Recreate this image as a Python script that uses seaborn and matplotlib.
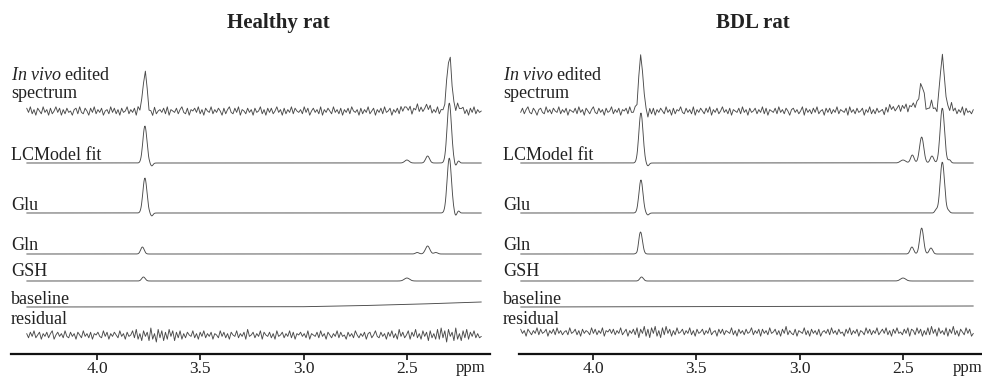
import numpy as np
import seaborn as sns
import matplotlib.pyplot as plt

sns.set_theme(style="white")
plt.rcParams['font.family'] = ['Liberation Serif', 'DejaVu Serif']
plt.rcParams['mathtext.fontset'] = 'custom'
plt.rcParams['mathtext.rm'] = 'Liberation Serif'
plt.rcParams['mathtext.it'] = 'Liberation Serif:italic'

# peak tables: (ppm, height in px, width in ppm)
invivo_healthy = [(3.768, 38, 0.024), (3.735, -4, 0.015), (2.50, 4, 0.03), (2.45, 3, 0.03),
                  (2.40, 6, 0.025), (2.295, 56, 0.026), (2.25, 4, 0.03)]
fit_healthy = [(3.768, 37, 0.023), (3.735, -3, 0.015), (2.50, 3, 0.025), (2.40, 7, 0.022),
               (2.295, 60, 0.025), (2.265, -3, 0.012), (2.25, 2, 0.012)]
glu_healthy = [(3.768, 35, 0.023), (3.735, -3, 0.015), (2.295, 55, 0.025),
               (2.265, -3, 0.012), (2.25, 2, 0.012)]
gln_healthy = [(3.78, 7, 0.02), (2.45, 1.5, 0.02), (2.40, 8, 0.025), (2.36, 1.5, 0.02)]
gsh_healthy = [(3.775, 4, 0.02), (2.50, 3, 0.03)]
baseline_healthy_ppm = [4.34, 3.0, 2.7, 2.4, 2.14]
baseline_healthy_val = [0, 0.3, 1.5, 3.2, 5]

invivo_bdl = [(3.768, 54, 0.025), (3.735, -5, 0.015), (2.55, 3, 0.05), (2.50, 4, 0.04),
              (2.45, 8, 0.025), (2.41, 29, 0.026), (2.36, 7, 0.02), (2.31, 54, 0.026),
              (2.27, 5, 0.02)]
fit_bdl = [(3.768, 50, 0.024), (3.735, -3, 0.015), (2.50, 3, 0.03), (2.455, 8, 0.02),
           (2.41, 26, 0.024), (2.36, 7, 0.02), (2.31, 55, 0.025), (2.275, 3, 0.015)]
glu_bdl = [(3.768, 33, 0.023), (3.735, -2, 0.015), (2.34, 3, 0.015), (2.31, 51, 0.025),
           (2.28, 2, 0.015)]
gln_bdl = [(3.785, -2, 0.01), (3.77, 22, 0.022), (2.457, 7, 0.02), (2.41, 26, 0.022),
           (2.365, 6, 0.02)]
gsh_bdl = [(3.765, 4, 0.02), (2.50, 3, 0.03)]
baseline_bdl_ppm = [4.35, 2.16]
baseline_bdl_val = [0, 1]

# noise traces (in vivo and residual), sampled evenly across the spectrum
noise_invivo_healthy = [
    2, -1, 3, -2, 1, -3, 2, 0, -2, 3, -1, 1, -3, 2, -2, 0, 3, -1, 2, -3, 1, -2, 2, -1, 0,
    -3, 1, 2, -2, 3, -1, -2, 2, 0, -3, 2, -1, 3, -2, 1, -1, 2, -3, 0, 1, -2, 3, -1, 2, -2,
    1, -3, 2, -1, 0, 3, -2, 1, -1, 2, -3, 3, -1, 0, -2, 2, 1, -3, 2, -1, 3, -2, 0, 1, -1,
    2, -2, 3, -3, 1, 0, -1, 2, -2, 1, 3, -1, -2, 2, -3, 1, 0, 2, -1, 3, -2, 1, -3, 2, 0,
    -1, 3, -2, 1, -1, 2, 0, -3, 2, -2, 1, 3, -1, -2, 2, -1, 3, -3, 1, 0, -2, 2, -1, 1, -3,
    2, -1, 0, 3, -2, 1, -3, 2, -1, 2, -2, 0, 3, -1, 1, -3, 2, -2, 1, -1, 3, -2, 2, 0, -1,
    1, -2, 3, -1, 2, -3, 0, 2, -1, 1, -2, 3, -3, 1, -1, 2, 0, -2, 3, -1, 1, -2, 2, -3, 1,
    -1, 2, -2, 3, 0, -1, 1, -3, 2, -2, 1, -1, 3, -2, 0, 2, -3, 1, -1, 2, -2, 3, -1, 0, 2,
    -3, 1, -1, 2, -2, 3, -1, 1, 0, -2, 2, -3, 1, -1, 3, -2, 2, -1, 0, 1, -3, 2, -2, 1, -1,
    3, -2, 1, 0, -1, 2, -3, 2, -1, 1, -2, 3, -1, 0, 2, -2, 1, -3, 2, -1, 3, -2, 1, -1, 0]
noise_residual_healthy = [
    1, -2, 2, -1, 3, -2, 0, 2, -3, 1, -1, 2, -2, 1, 3, -3, 0, 2, -1, 1, -2, 3, -1, -2, 2,
    -1, 1, -3, 2, 0, -2, 3, -1, 1, -2, 2, -3, 1, 0, 2, -1, -2, 3, -1, 2, -3, 1, -1, 2, 0,
    -2, 3, -1, 1, -3, 2, -1, 0, 3, -2, 4, -3, 1, -4, 3, -1, 2, -4, 5, -3, 1, -5, 4, -2, 3,
    -4, 2, -3, 4, -1, 3, -4, 2, -2, 3, -3, 1, -2, 2, 0, -1, 3, -2, 1, -3, 2, -1, 3, -2, 1,
    -1, 2, -3, 1, 0, -2, 3, -1, 2, -2, 1, -3, 2, 0, -1, 3, -2, 1, -1, 2, -3, 4, -1, 0, 2,
    -2, 1, -1, 3, -3, 2, 0, -1, 2, -2, 1, -3, 3, -1, 0, 2, -2, 1, -1, 3, -2, 2, -3, 1, 0,
    2, -1, 1, -2, 3, -3, 1, 0, -1, 2, -2, 3, -1, 1, -3, 2, 0, -2, 1, -1, 3, -2, 2, -1, 0,
    -3, 2, -1, 1, -2, 3, 0, -2, 1, -1, 2, -3, 1, 2, -2, 0, 3, -1, -2, 2, -1, 1, -3, 2, -1,
    3, -2, 1, -3, 4, -1, 2, -2, 0, 3, -3, 2, -1, 4, -2, 1, -3, 3, -1, 2, -4, 3, -2, 1, -3,
    4, -3, 5, -2, 3, -5, 4, -1, 2, -4, 5, -3, 1, -4, 3, -2, 4, -3, 2, -1, 3, -2, 1, -2, -1]
noise_invivo_bdl = [
    -1, 2, -2, 1, 3, -1, -2, 2, 0, -3, 1, 2, -1, -2, 3, -1, 1, -2, 2, 0, -1, 3, -2, 1, -1,
    2, -3, 1, 0, -1, 2, -2, 3, -1, 1, -3, 2, 0, -2, 1, 3, -1, -2, 2, -1, 1, -3, 2, -1, 0,
    3, -2, 1, -1, 2, -3, 1, 0, 2, -2, 3, -1, -1, 2, -3, 1, 2, -2, 0, 1, -1, 3, -2, 2, -3,
    1, -1, 2, 0, -2, 3, -1, 1, -3, 2, -2, 1, 0, 3, -1, -2, 2, -1, 1, -2, 3, -3, 1, -1, 2,
    0, -2, 2, -1, 3, -3, 1, -1, 2, -2, 0, 3, -1, 1, -2, 2, -3, 1, 0, -1, 2, -2, 3, -1, 1,
    -3, 2, -1, 0, 2, -2, 1, -1, 3, -2, 2, -3, 1, 0, -1, 2, -2, 3, -1, 1, -2, 2, 0, -3, 1,
    2, -1, 1, -2, 0, 3, -3, 2, -1, 1, -2, 2, -1, 3, -2, 0, 1, -3, 2, -1, 2, -2, 1, -1, 3,
    -2, 1, 0, -1, 2, -3, 3, -1, 1, -2, 2, -1, 0, 2, -3, 1, -1, 3, -2, 1, -2, 2, -1, 0, 1,
    -3, 2, -2, 3, -1, 1, -2, 0, 2, -3, 1, -1, 3, -2, 2, -1, 0, -2, 3, -1, 1, -3, 2, -2, 1,
    0, 3, -2, 1, -3, 2, -1, 2, -2, 0, 1, -3, 3, -1, 2, -2, 1, -1, 3, -3, 2, -1, 0, -2, 1]
noise_residual_bdl = [
    2, -1, 1, -3, 2, 0, -2, 1, -1, 3, -2, 2, -1, 0, 2, -3, 1, -1, 2, -2, 3, -1, 1, -2, 0,
    1, -2, 3, -1, 0, 2, -2, 1, -3, 2, -1, 1, 0, -2, 3, -1, 2, -2, 1, -1, 3, -3, 1, 0, 2,
    -1, 2, -2, 1, -1, 3, -2, 0, 2, -3, 1, -1, 2, -2, 3, -4, 2, -1, 4, -3, 2, -4, 3, -1, 4,
    -3, 1, -4, 3, -2, 4, -1, 2, -3, 1, -2, 3, -1, 0, 2, -2, 1, -1, 3, -2, 1, -3, 2, -1, 0,
    2, -2, 1, -1, 3, -2, 0, 1, -3, 2, -1, 2, -2, 1, 0, -1, 3, -2, 1, -3, 2, -1, 1, -2, 2,
    -1, 0, 3, -2, 1, -1, 2, -3, 2, -1, 1, -2, 3, -1, 0, 2, -2, 1, -3, 2, -1, 4, -2, 1, -1,
    -2, 2, -3, 1, 0, -1, 3, -2, 1, -3, 2, -1, 1, -2, 2, -3, 0, 1, -1, 2, -2, 3, -1, 1, -2,
    2, -1, 0, -3, 2, -1, 3, -2, 1, -1, 2, -3, 1, 0, -2, 3, -1, 2, -2, 1, -1, 3, -2, 0, 2,
    -1, 3, -2, 1, -3, 2, -1, 3, -1, 0, -2, 2, -1, 3, -3, 2, 1, -2, 3, -1, 2, -3, 1, -2, 3,
    -2, 4, -1, 2, -3, 3, -1, 1, -2, 3, -3, 2, -1, 4, -2, 1, -3, 2, 0, -2, 3, -1, 2, -3, -1]

tick_values = [4.0, 3.5, 3.0, 2.5]
tick_labels = ['4.0', '3.5', '3.0', '2.5']
trace_labels = [r'$\mathit{In\ vivo}$ edited', 'spectrum', 'LCModel fit', 'Glu', 'Gln',
                'GSH', 'baseline', 'residual']

W, H = 982, 382
LINE = '#4a4a4a'
TEXT = '#222222'


def lineshape(ppm, peaks):
    y = np.zeros_like(ppm)
    for c, h, w in peaks:
        y += h * np.exp(-4 * np.log(2) * ((ppm - c) / w) ** 2)
    return y


def trace(ax, x, y):
    sns.lineplot(x=x, y=y, ax=ax, color=LINE, linewidth=0.65, estimator=None, sort=False)


fig = plt.figure(figsize=(W / 100, H / 100), dpi=100)

panels = [
    dict(title='Healthy rat', title_x=278, px=(11, 490), xlim=(4.416, 2.098), span=(4.34, 2.14),
         label_x=11, invivo=invivo_healthy, fit=fit_healthy, glu=glu_healthy,
         gln=gln_healthy, gsh=gsh_healthy, bl=(baseline_healthy_ppm, baseline_healthy_val),
         n_inv=noise_invivo_healthy, n_res=noise_residual_healthy, res_off=19),
    dict(title='BDL rat', title_x=753, px=(519, 982), xlim=(4.358, 2.118), span=(4.35, 2.16),
         label_x=503, invivo=invivo_bdl, fit=fit_bdl, glu=glu_bdl,
         gln=gln_bdl, gsh=gsh_bdl, bl=(baseline_bdl_ppm, baseline_bdl_val),
         n_inv=noise_invivo_bdl, n_res=noise_residual_bdl, res_off=22),
]

spine_y = 354
top_y = 30
label_y = [75, 93, 155, 205, 245, 272, 299, 319]

for p in panels:
    x0, x1 = p['px']
    ax = fig.add_axes([x0 / W, (H - spine_y) / H, (x1 - x0) / W, (spine_y - top_y) / H])
    ax.set_xlim(*p['xlim'])
    ax.set_ylim(0, spine_y - top_y)

    dense = np.linspace(p['span'][0], p['span'][1], 900)
    coarse = np.linspace(p['span'][0], p['span'][1], len(p['n_inv']))

    trace(ax, coarse, 243 + lineshape(coarse, p['invivo']) + 1.4 * np.array(p['n_inv']))
    trace(ax, dense, 191 + lineshape(dense, p['fit']))
    trace(ax, dense, 141 + lineshape(dense, p['glu']))
    trace(ax, dense, 100 + lineshape(dense, p['gln']))
    trace(ax, dense, 73 + lineshape(dense, p['gsh']))
    trace(ax, np.array(p['bl'][0]), 47 + np.array(p['bl'][1]))
    trace(ax, coarse, p['res_off'] + 1.4 * np.array(p['n_res']))

    for s in ['top', 'right', 'left']:
        ax.spines[s].set_visible(False)
    ax.spines['bottom'].set_color('#111111')
    ax.spines['bottom'].set_linewidth(1.6)
    ax.set_yticks([])
    ax.set_xticks(tick_values)
    ax.set_xticklabels(tick_labels)
    ax.tick_params(axis='x', direction='out', length=4, width=1.2, color='#111111',
                   labelsize=12.5, labelcolor=TEXT, pad=1, bottom=True)
    ax.set_xlabel('')
    ax.set_ylabel('')
    ax.text(2.19, -14, 'ppm', ha='center', va='center', fontsize=12, color=TEXT, clip_on=False)

    fig.text(p['title_x'] / W, 1 - 23 / H, p['title'], ha='center', va='center',
             fontsize=15, fontweight='bold', color=TEXT)
    for lab, ly in zip(trace_labels, label_y):
        fig.text(p['label_x'] / W, 1 - ly / H, lab, ha='left', va='center',
                 fontsize=13, color=TEXT)

fig.savefig('out.png', dpi=100)
